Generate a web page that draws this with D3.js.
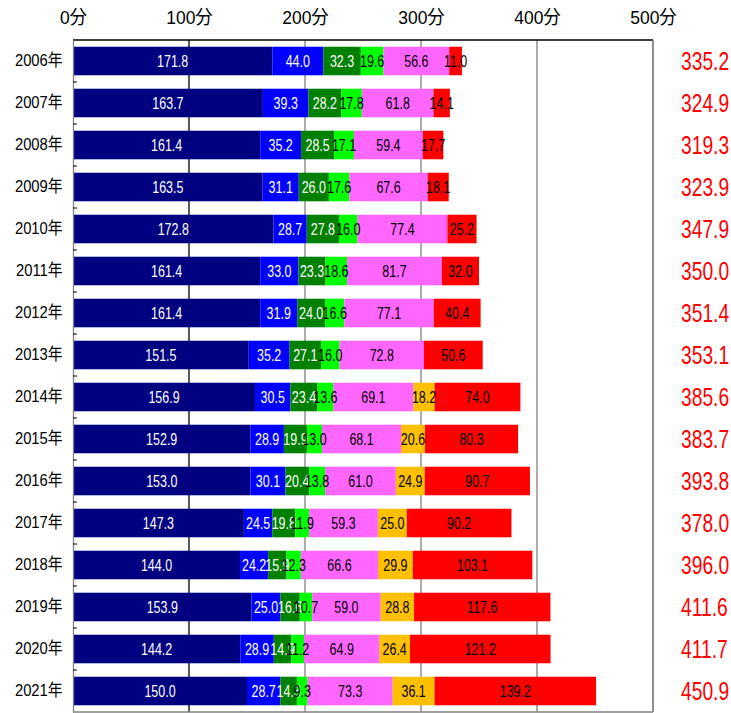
<!DOCTYPE html>
<html>
<head>
<meta charset="utf-8">
<script src="https://cdn.jsdelivr.net/npm/d3@7"></script>
<style>
  body { margin: 0; background: #fff; }
  svg text { font-family: "Liberation Sans", "Noto Sans CJK JP", sans-serif; }
</style>
</head>
<body>
<div id="chart"></div>
<script>
// Categories
const years = ["2006年", "2007年", "2008年", "2009年", "2010年", "2011年", "2012年", "2013年",
               "2014年", "2015年", "2016年", "2017年", "2018年", "2019年", "2020年", "2021年"];

// Series values (minutes), left to right within each bar
const s1 = [171.8, 163.7, 161.4, 163.5, 172.8, 161.4, 161.4, 151.5, 156.9, 152.9, 153.0, 147.3, 144.0, 153.9, 144.2, 150.0];
const s2 = [44.0, 39.3, 35.2, 31.1, 28.7, 33.0, 31.9, 35.2, 30.5, 28.9, 30.1, 24.5, 24.2, 25.0, 28.9, 28.7];
const s3 = [32.3, 28.2, 28.5, 26.0, 27.8, 23.3, 24.0, 27.1, 23.4, 19.9, 20.4, 19.8, 15.9, 16.6, 14.9, 14.3];
const s4 = [19.6, 17.8, 17.1, 17.6, 16.0, 18.6, 16.6, 16.0, 13.6, 13.0, 13.8, 11.9, 12.3, 10.7, 11.2, 9.3];
const s5 = [56.6, 61.8, 59.4, 67.6, 77.4, 81.7, 77.1, 72.8, 69.1, 68.1, 61.0, 59.3, 66.6, 59.0, 64.9, 73.3];
const s6 = [0, 0, 0, 0, 0, 0, 0, 0, 18.2, 20.6, 24.9, 25.0, 29.9, 28.8, 26.4, 36.1];
const s7 = [11.0, 14.1, 17.7, 18.1, 25.2, 32.0, 40.4, 50.6, 74.0, 80.3, 90.7, 90.2, 103.1, 117.6, 121.2, 139.2];

// Totals shown at right
const totals = [335.2, 324.9, 319.3, 323.9, 347.9, 350.0, 351.4, 353.1, 385.6, 383.7, 393.8, 378.0, 396.0, 411.6, 411.7, 450.9];

// Axis ticks
const xTicks = [0, 100, 200, 300, 400, 500];

const seriesKeys = ["s1", "s2", "s3", "s4", "s5", "s6", "s7"];
const colors = ["#000080", "#0000FF", "#008000", "#00FF00", "#FF66FF", "#FFC000", "#FF0000"];
const textColors = ["#fff", "#fff", "#fff", "#000", "#000", "#000", "#000"];

const table = years.map((y, i) => ({
  year: y, s1: s1[i], s2: s2[i], s3: s3[i], s4: s4[i], s5: s5[i], s6: s6[i], s7: s7[i], total: totals[i]
}));

const width = 731, height = 713;
const svg = d3.select("#chart").append("svg")
  .attr("width", width).attr("height", height);

const x = d3.scaleLinear().domain([0, 500]).range([73, 653]);
const y = d3.scaleBand().domain(years).range([40, 712])
  .paddingInner(0.32).paddingOuter(0.16);

// Gridlines
svg.append("g").selectAll("line")
  .data(xTicks.slice(1))
  .join("line")
  .attr("x1", d => x(d)).attr("x2", d => x(d))
  .attr("y1", 40).attr("y2", 712)
  .attr("stroke", d => d === 100 ? "#000" : "#808080")
  .attr("stroke-width", 1.3);

// Stacked bars
const stacked = d3.stack().keys(seriesKeys)(table);

const layers = svg.append("g").selectAll("g")
  .data(stacked)
  .join("g")
  .attr("fill", (d, i) => colors[i]);

layers.selectAll("rect")
  .data(d => d)
  .join("rect")
  .attr("x", d => x(d[0]))
  .attr("y", d => y(d.data.year))
  .attr("width", d => x(d[1]) - x(d[0]))
  .attr("height", y.bandwidth());

// Segment labels (narrow look via horizontal squeeze)
stacked.forEach((layer, i) => {
  svg.append("g").selectAll("text")
    .data(layer.filter(d => d[1] - d[0] > 0))
    .join("text")
    .attr("transform", d => `translate(${(x(d[0]) + x(d[1])) / 2}, ${y(d.data.year) + y.bandwidth() / 2}) scale(0.78, 1)`)
    .attr("dy", "0.36em")
    .attr("text-anchor", "middle")
    .attr("font-size", 16)
    .attr("fill", textColors[i])
    .text(d => (d[1] - d[0]).toFixed(1));
});

// Frame: top, right, bottom
svg.append("line").attr("x1", x(0)).attr("x2", x(500)).attr("y1", 40).attr("y2", 40)
  .attr("stroke", "#000").attr("stroke-width", 1.3);
svg.append("line").attr("x1", x(500)).attr("x2", x(500)).attr("y1", 40).attr("y2", 712)
  .attr("stroke", "#808080").attr("stroke-width", 1.3);
svg.append("line").attr("x1", x(0)).attr("x2", x(500)).attr("y1", 712).attr("y2", 712)
  .attr("stroke", "#808080").attr("stroke-width", 1.3);

// Top axis labels
const xAxis = d3.axisTop(x).tickValues(xTicks).tickSize(0).tickPadding(4).tickFormat(d => d + "分");
svg.append("g")
  .attr("transform", "translate(0, 28)")
  .call(xAxis)
  .call(g => g.select(".domain").remove())
  .call(g => g.selectAll("text")
    .attr("font-size", 19)
    .attr("fill", "#000")
    .attr("transform", "scale(0.92, 1)")
    .style("font-family", "'Liberation Sans', 'Noto Sans CJK JP', sans-serif"));

// Left axis with small inner ticks at band boundaries
const yAxis = d3.axisLeft(y).tickSize(0).tickPadding(12);
svg.append("g")
  .attr("transform", `translate(${x(0)}, 0)`)
  .call(yAxis)
  .call(g => g.select(".domain").attr("stroke", "#808080").attr("stroke-width", 1.3))
  .call(g => g.selectAll("text")
    .attr("font-size", 17)
    .attr("fill", "#000")
    .attr("transform", "scale(0.87, 1)")
    .style("font-family", "'Liberation Sans', 'Noto Sans CJK JP', sans-serif"));

svg.append("g").selectAll("line")
  .data(years.slice(1))
  .join("line")
  .attr("x1", x(0)).attr("x2", x(0) + 4)
  .attr("y1", d => y(d) - y.step() * y.paddingInner() / 2)
  .attr("y2", d => y(d) - y.step() * y.paddingInner() / 2)
  .attr("stroke", "#000");

// Totals on the right
svg.append("g").selectAll("text")
  .data(table)
  .join("text")
  .attr("transform", d => `translate(681, ${y(d.year) + y.bandwidth() / 2}) scale(0.74, 1)`)
  .attr("dy", "0.36em")
  .attr("font-size", 26)
  .attr("fill", "#FF0000")
  .text(d => d.total.toFixed(1));
</script>
</body>
</html>
